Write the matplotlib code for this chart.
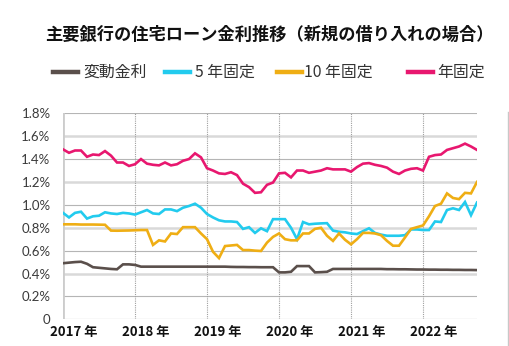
import numpy as np
import matplotlib
matplotlib.use("Agg")
import matplotlib.pyplot as plt
from matplotlib.lines import Line2D
import matplotlib.transforms as mtransforms

plt.rcParams['font.family'] = ['Noto Sans CJK JP', 'DejaVu Sans']

title = "主要銀行の住宅ローン金利推移（新規の借り入れの場合）"
series_names = ["変動金利", "5 年固定", "10 年固定", "年固定"]
year_labels = ["2017 年", "2018 年", "2019 年", "2020 年", "2021 年", "2022 年"]
years = [2017, 2018, 2019, 2020, 2021, 2022]
ytick_vals = [0, 0.2, 0.4, 0.6, 0.8, 1.0, 1.2, 1.4, 1.6, 1.8]
ytick_labels = ["0", "0.2%", "0.4%", "0.6%", "0.8%", "1.0%", "1.2%", "1.4%", "1.6%", "1.8%"]

# monthly data, Jan 2017 - Oct 2022 (%)
variable = [0.49, 0.495, 0.50, 0.503, 0.485, 0.455, 0.45, 0.445, 0.44, 0.437,
            0.48, 0.48, 0.475, 0.46, 0.46, 0.46, 0.46, 0.46, 0.46, 0.46,
            0.46, 0.46, 0.46, 0.46, 0.46, 0.46, 0.46, 0.46, 0.458, 0.457,
            0.457, 0.456, 0.456, 0.455, 0.455, 0.455, 0.41, 0.41, 0.415, 0.465,
            0.465, 0.465, 0.41, 0.412, 0.415, 0.44, 0.44, 0.44, 0.44, 0.44,
            0.44, 0.44, 0.44, 0.44, 0.438, 0.438, 0.437, 0.437, 0.436, 0.435,
            0.435, 0.434, 0.434, 0.433, 0.433, 0.432, 0.432, 0.431, 0.431, 0.43]
fixed5 = [0.93, 0.89, 0.93, 0.94, 0.88, 0.90, 0.905, 0.935, 0.925, 0.92,
          0.93, 0.925, 0.915, 0.935, 0.955, 0.925, 0.92, 0.96, 0.96, 0.945,
          0.975, 0.99, 1.01, 0.975, 0.92, 0.89, 0.865, 0.855, 0.855, 0.85,
          0.79, 0.805, 0.755, 0.795, 0.77, 0.875, 0.875, 0.875, 0.80, 0.70,
          0.85, 0.83, 0.835, 0.838, 0.84, 0.775, 0.765, 0.76, 0.75, 0.745,
          0.77, 0.795, 0.755, 0.74, 0.73, 0.73, 0.73, 0.735, 0.785, 0.785,
          0.78, 0.78, 0.855, 0.85, 0.955, 0.97, 0.955, 1.025, 0.91, 1.02]
fixed10 = [0.83, 0.83, 0.83, 0.828, 0.828, 0.828, 0.827, 0.826, 0.775, 0.774,
           0.775, 0.776, 0.778, 0.78, 0.78, 0.65, 0.69, 0.68, 0.75, 0.745,
           0.805, 0.805, 0.805, 0.75, 0.70, 0.59, 0.535, 0.64, 0.645, 0.65,
           0.605, 0.605, 0.60, 0.597, 0.67, 0.72, 0.75, 0.70, 0.69, 0.69,
           0.75, 0.75, 0.79, 0.80, 0.73, 0.685, 0.75, 0.695, 0.655, 0.70,
           0.755, 0.755, 0.75, 0.735, 0.685, 0.643, 0.643, 0.715, 0.79, 0.805,
           0.82, 0.90, 0.99, 1.01, 1.10, 1.06, 1.05, 1.105, 1.10, 1.20]
fixed_long = [1.485, 1.455, 1.475, 1.475, 1.42, 1.44, 1.435, 1.47, 1.43, 1.37,
              1.37, 1.34, 1.355, 1.40, 1.36, 1.35, 1.345, 1.37, 1.345, 1.355,
              1.385, 1.40, 1.45, 1.415, 1.32, 1.30, 1.275, 1.27, 1.285, 1.26,
              1.185, 1.155, 1.105, 1.11, 1.175, 1.195, 1.275, 1.28, 1.24, 1.30,
              1.30, 1.28, 1.29, 1.30, 1.32, 1.31, 1.31, 1.31, 1.29, 1.33,
              1.36, 1.365, 1.35, 1.34, 1.325, 1.29, 1.27, 1.30, 1.315, 1.32,
              1.30, 1.42, 1.435, 1.44, 1.48, 1.495, 1.51, 1.535, 1.51, 1.48]

colors = ["#5a4f4b", "#22cbee", "#efae14", "#e8176f"]
data = [variable, fixed5, fixed10, fixed_long]

n = len(variable)
t = 2017 + np.arange(n) / 12.0

fig = plt.figure(figsize=(5.10, 3.46), dpi=100)
ax = fig.add_axes([63/510, 26.7/346, (477-63)/510, (232.7-26.7)/346])

# grid lines
for i, v in enumerate(ytick_vals):
    if v == 0:
        ax.axhline(v, color="#e0e0e0", lw=1.0, zorder=0)
    elif i % 2 == 0:
        ax.axhline(v, color="#d9d9d9", lw=1.8, zorder=0)
    else:
        ax.axhline(v, color="#b5b5b5", lw=0.8, zorder=0)
for y in years[1:]:
    ax.axvline(y, color="#a0a0a0", lw=0.8, ls=(0, (1, 1)), zorder=0)
ax.axvline(years[0], color="#cccccc", lw=2.0, zorder=0)

for d, c in zip(data, colors):
    ax.plot(t, d, color=c, lw=1.9, solid_joinstyle="miter", zorder=3)

ax.set_xlim(2017, t[-1])
ax.set_ylim(0, 1.8)
for s in ax.spines.values():
    s.set_visible(False)
ax.set_yticks(ytick_vals)
ax.set_yticklabels(ytick_labels, fontfamily="Lato", fontweight="normal",
                   fontsize=9.5, color="#3a3a3a")
ax.tick_params(axis="y", length=0, pad=9)
ax.set_xticks([])
for y, lab in zip(years, year_labels):
    ax.text(y, -0.03, lab, transform=ax.get_xaxis_transform(),
            ha="left", va="top", fontsize=9.5, fontweight="bold",
            color="#111111").set_transform(
        ax.get_xaxis_transform() + mtransforms.ScaledTranslation(-13/100, 0, fig.dpi_scale_trans))

# title
fig.text(269/510, 1 - 35/346, title, ha="center", va="center",
         fontsize=12.4, fontweight="bold", color="#111111")

# legend
leg_y = 1 - 72/346
leg_lines = [(53, 78), (165, 190), (277, 302), (408, 433)]
leg_text_x = [83, 195, 304, 437]
for (x0, x1), tx, c, name in zip(leg_lines, leg_text_x, colors, series_names):
    fig.add_artist(Line2D([x0/510, x1/510], [leg_y, leg_y], color=c, lw=3.2,
                          transform=fig.transFigure))
    fig.text(tx/510, leg_y, name, ha="left", va="center", fontsize=11.4,
             color="#333333")

# right border line
fig.add_artist(Line2D([508/510, 508/510], [0, 1 - 112/346], color="#c8c8c8",
                      lw=1.0, transform=fig.transFigure))

fig.savefig("out.png", dpi=100)
